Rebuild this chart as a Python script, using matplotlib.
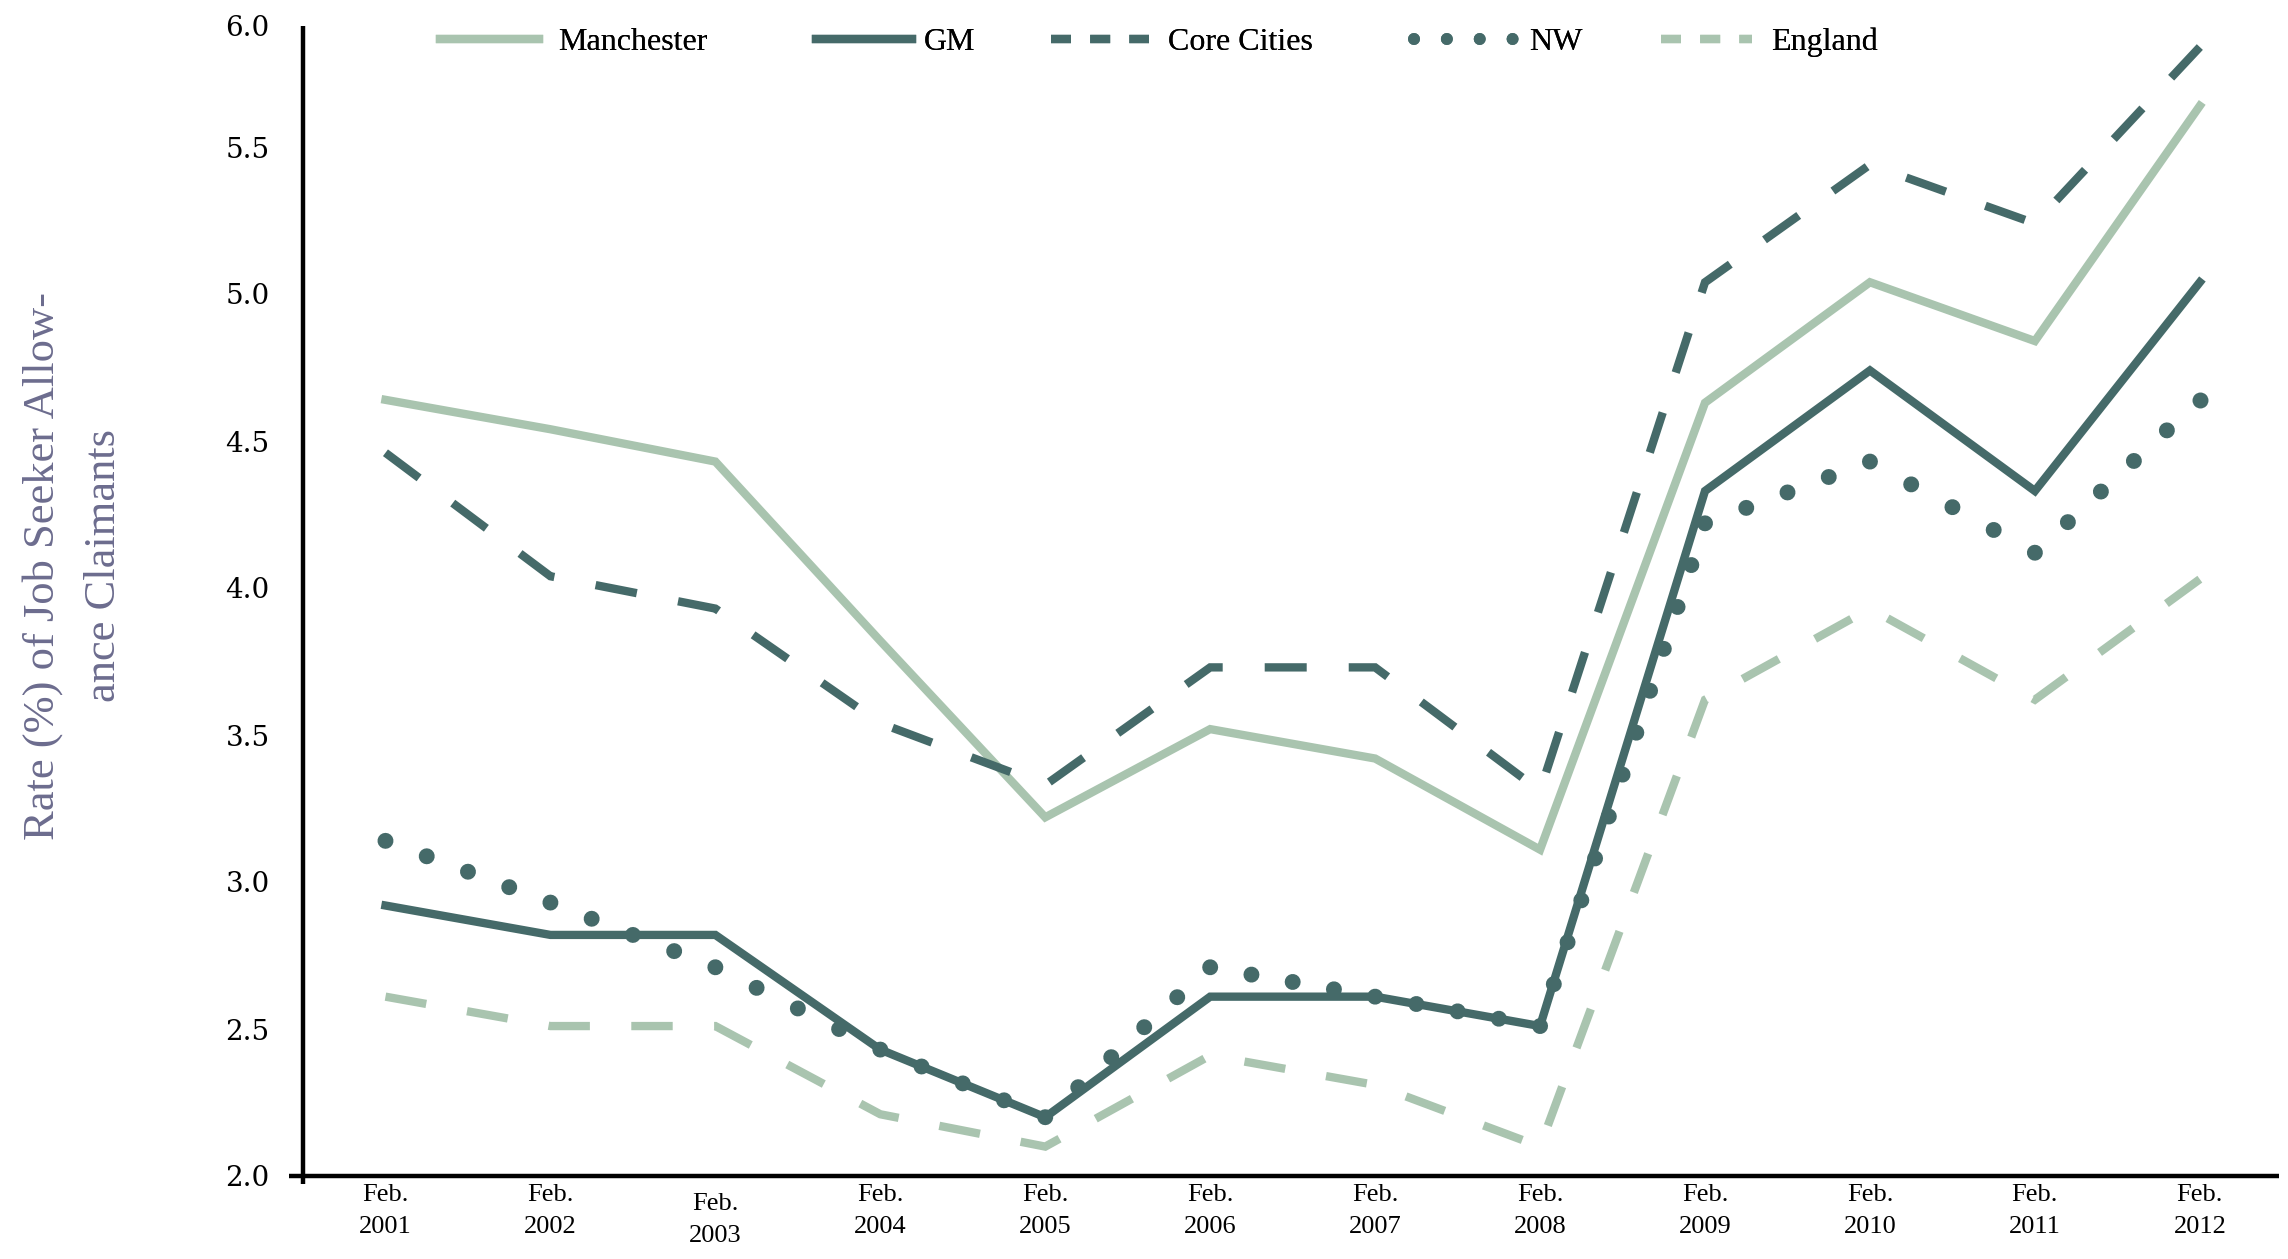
import matplotlib
matplotlib.use("Agg")
import matplotlib.pyplot as plt
import numpy as np
from matplotlib.lines import Line2D
from matplotlib.transforms import ScaledTranslation

# Job Seeker Allowance claimant rate (%), February of each year
years = ["2001", "2002", "2003", "2004", "2005", "2006",
         "2007", "2008", "2009", "2010", "2011", "2012"]
manchester = [4.64, 4.54, 4.43, 3.82, 3.22, 3.52, 3.42, 3.11, 4.63, 5.04, 4.84, 5.64]
gm = [2.92, 2.82, 2.82, 2.43, 2.20, 2.61, 2.61, 2.51, 4.33, 4.74, 4.33, 5.04]
core_cities = [4.46, 4.04, 3.93, 3.54, 3.33, 3.73, 3.73, 3.31, 5.04, 5.44, 5.24, 5.84]
nw = [3.14, 2.93, 2.71, 2.43, 2.20, 2.71, 2.61, 2.51, 4.22, 4.43, 4.12, 4.64]
england = [2.61, 2.51, 2.51, 2.21, 2.10, 2.41, 2.31, 2.10, 3.62, 3.93, 3.62, 4.03]

series_names = ["Manchester", "GM", "Core Cities", "NW", "England"]
y_ticks = [2.0, 2.5, 3.0, 3.5, 4.0, 4.5, 5.0, 5.5, 6.0]
x_labels = ["Feb.\n" + y for y in years]

DARK = "#456a69"
LIGHT = "#a9c4af"
LABEL_COLOR = "#6c6c8e"
W, H = 2288, 1259
DPI = 100

fig = plt.figure(figsize=(W / DPI, H / DPI), dpi=DPI)
ax = fig.add_axes([303 / W, 1 - 1176 / H, (2279 - 303) / W, 1176 / H])
ax.set_xlim(-0.5, 11.48)
ax.set_ylim(2.0, 6.0)

x = list(range(len(years)))
lw = 6.0
dot_lw = 11.5
dash_on, dash_off = 5.0, 5.0          # in units of line width


def path_length_pt(xs, ys):
    """Length of the polyline in points, measured on screen."""
    pts = ax.transData.transform(np.column_stack([xs, ys]))
    return np.hypot(*np.diff(pts, axis=0).T).sum() * 72 / DPI


def dashed_full_ends(xs, ys, color):
    # stretch the dash pattern slightly so the series starts and ends on a dash
    length = path_length_pt(xs, ys)
    on, off = dash_on * lw, dash_off * lw
    n = max(1, round((length - on) / (on + off)))
    k = length / (n * (on + off) + on)
    ax.plot(xs, ys, color=color, lw=lw,
            linestyle=(0, (dash_on * k, dash_off * k)),
            dash_capstyle="butt", dash_joinstyle="miter")


def dotted_by_segment(xs, ys, color, spacing_px=46):
    # dots spaced evenly on every segment so that each year gets a dot
    for i in range(len(xs) - 1):
        seg_x, seg_y = xs[i:i + 2], ys[i:i + 2]
        length_pt = path_length_pt(seg_x, seg_y)
        n = max(1, round(length_pt / (spacing_px * 72 / DPI)))
        gap = length_pt / n
        ax.plot(seg_x, seg_y, color=color, lw=dot_lw,
                linestyle=(0, (0.001, (gap - 0.001) / dot_lw)),
                dash_capstyle="round")
    ax.plot(xs[-1:], ys[-1:], linestyle="none", marker="o",
            markersize=dot_lw, markeredgewidth=0, color=color)


ax.plot(x, manchester, color=LIGHT, lw=lw, solid_joinstyle="miter")
ax.plot(x, gm, color=DARK, lw=lw, solid_joinstyle="miter")
dashed_full_ends(x, core_cities, DARK)
dotted_by_segment(x, nw, DARK)
dashed_full_ends(x, england, LIGHT)

for side in ("top", "right"):
    ax.spines[side].set_visible(False)
for side in ("left", "bottom"):
    ax.spines[side].set_linewidth(3.2)
    ax.spines[side].set_color("black")
    ax.spines[side].set_capstyle("butt")
ax.spines["left"].set_bounds(2.0, 5.91)

# x axis: two-line labels, no tick marks
ax.set_xticks(x)
ax.set_xticklabels(x_labels, fontfamily="Liberation Serif", fontsize=19,
                   linespacing=1.55)
ax.tick_params(axis="x", which="major", length=0, pad=6)
# short stub of the y axis below the x axis
ax.set_xticks([-0.5], minor=True)
ax.tick_params(axis="x", which="minor", length=6, width=3.2, direction="out")
# the 2003 label sits a little lower
lab03 = ax.get_xticklabels()[2]
lab03.set_transform(lab03.get_transform()
                    + ScaledTranslation(0, -9 / DPI, fig.dpi_scale_trans))

# y axis: labels only, with a tick mark at the origin
ax.set_yticks(y_ticks)
ax.set_yticklabels([f"{v:.1f}" for v in y_ticks], fontfamily="DejaVu Serif",
                   fontsize=20)
ax.tick_params(axis="y", which="major", length=10, width=3.2, pad=14)
for t in ax.yaxis.get_major_ticks()[1:]:
    t.tick1line.set_visible(False)
top_lab = ax.get_yticklabels()[-1]
top_lab.set_transform(top_lab.get_transform()
                      + ScaledTranslation(0, -26 / DPI, fig.dpi_scale_trans))

fig.text(73 / W, 1 - 566 / H,
         "Rate (%) of Job Seeker Allow-\nance Claimants",
         rotation=90, ha="center", va="center", multialignment="center",
         fontfamily="Liberation Serif", fontsize=32, color=LABEL_COLOR,
         linespacing=1.65)

# legend entries laid out across the top
handles = [
    Line2D([], [], color=LIGHT, lw=lw),
    Line2D([], [], color=DARK, lw=lw),
    Line2D([], [], color=DARK, lw=lw, linestyle=(0, (2.4, 2.3)),
           dash_capstyle="butt"),
    Line2D([], [], color=DARK, lw=8.6, linestyle=(0, (0.001, 2.75)),
           dash_capstyle="round"),
    Line2D([], [], color=LIGHT, lw=lw, linestyle=(0, (2.4, 2.3)),
           dash_capstyle="butt"),
]
anchors = [440, 816, 1051, 1414, 1661]
hlens = [3.1, 3.0, 3.07, 3.2, 2.85]
hpads = [0.6, 0.38, 0.6, 0.4, 0.6]
for h, name, ax0, hl, hp in zip(handles, series_names, anchors, hlens, hpads):
    leg = fig.legend(handles=[h], labels=[name], loc="center left",
                     bbox_to_anchor=(ax0 / W, 1 - 42 / H), frameon=False,
                     borderpad=0, borderaxespad=0, handlelength=hl,
                     handletextpad=hp,
                     prop={"family": "Liberation Serif", "size": 23})
    fig.add_artist(leg)

fig.savefig("out.png", dpi=DPI, facecolor="white")
